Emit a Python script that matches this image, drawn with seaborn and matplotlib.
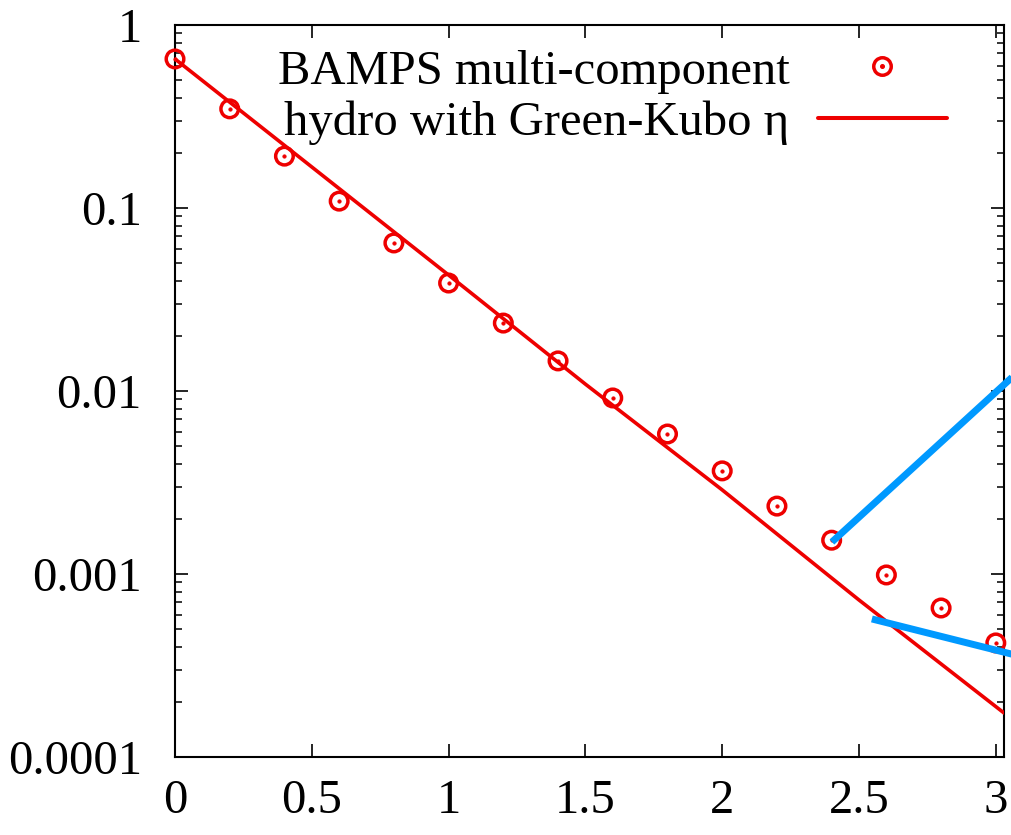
import matplotlib
matplotlib.use("Agg")
import matplotlib.pyplot as plt
import matplotlib.ticker as mticker
from matplotlib.lines import Line2D
from matplotlib.legend_handler import HandlerTuple
import seaborn as sns
import pandas as pd

# BAMPS multi-component transport results
bamps_x = [0.0, 0.2, 0.4, 0.6, 0.8, 1.0, 1.2, 1.4, 1.6, 1.8, 2.0, 2.2, 2.4, 2.6, 2.8, 3.0]
bamps_y = [0.652, 0.348, 0.192, 0.109, 0.0644, 0.0389, 0.0235, 0.0146, 0.00916,
           0.00582, 0.00366, 0.00235, 0.00153, 0.000988, 0.000652, 0.00042]

# hydrodynamic curve using the Green-Kubo shear viscosity
hydro_x = [0.0, 0.5, 1.0, 1.5, 2.0, 2.5, 3.03]
hydro_y = [0.652, 0.1675, 0.0430, 0.0109, 0.00288, 0.000721, 0.000174]

# pointer lines leading off to the right
pointer_a_x = [2.401, 3.10]
pointer_a_y = [0.001496, 0.0135]
pointer_b_x = [2.547, 3.10]
pointer_b_y = [0.000568, 0.000352]

y_ticks = [1e-4, 1e-3, 1e-2, 1e-1, 1.0]
y_tick_labels = ["0.0001", "0.001", "0.01", "0.1", "1"]
x_ticks = [0, 0.5, 1, 1.5, 2, 2.5, 3]
x_tick_labels = ["0", "0.5", "1", "1.5", "2", "2.5", "3"]

label_bamps = "BAMPS multi-component"
label_hydro = "hydro with Green-Kubo \u03b7"

sns.set_theme(style="ticks")
plt.rcParams["font.family"] = ["Liberation Serif", "DejaVu Serif"]
plt.rcParams["text.color"] = "black"
plt.rcParams["axes.labelcolor"] = "black"
plt.rcParams["xtick.color"] = "black"
plt.rcParams["ytick.color"] = "black"

RED = "#EE0000"
BLUE = "#0099FF"
LINE_W = 2.6
EDGE_W = 2.5

fig = plt.figure(figsize=(10.11, 8.35), dpi=100)
ax = fig.add_axes([0.1731, 0.0934, 0.8200, 0.8767])

df_b = pd.DataFrame({"x": bamps_x, "y": bamps_y})
df_h = pd.DataFrame({"x": hydro_x, "y": hydro_y})

sns.lineplot(data=df_h, x="x", y="y", ax=ax, color=RED, linewidth=LINE_W,
             sort=False, estimator=None, zorder=3)
sns.scatterplot(data=df_b, x="x", y="y", ax=ax, marker="o", s=160,
                facecolor="none", edgecolor=RED, linewidth=EDGE_W, zorder=4, clip_on=False)
sns.scatterplot(data=df_b, x="x", y="y", ax=ax, marker="o", s=7,
                color=RED, edgecolor=RED, linewidth=0.3, zorder=5, clip_on=False)

for px, py in ((pointer_a_x, pointer_a_y), (pointer_b_x, pointer_b_y)):
    ax.plot(px, py, color=BLUE, linewidth=5.0, solid_capstyle="butt",
            clip_on=False, zorder=6)

ax.set_yscale("log")
ax.set_xlim(0, 3.03)
ax.set_ylim(1e-4, 1.0)
ax.set_xticks(x_ticks)
ax.set_xticklabels(x_tick_labels)
ax.set_yticks(y_ticks)
ax.set_yticklabels(y_tick_labels)
ax.yaxis.set_minor_locator(mticker.LogLocator(base=10, subs=range(2, 10), numticks=20))
ax.yaxis.set_minor_formatter(mticker.NullFormatter())
ax.xaxis.set_minor_locator(mticker.NullLocator())
ax.set_xlabel("")
ax.set_ylabel("")

for s in ax.spines.values():
    s.set_linewidth(1.5)
    s.set_color("black")
ax.tick_params(axis="both", which="major", direction="in", length=9.5, width=1.2,
               top=True, right=True, labelsize=35, colors="black")
ax.tick_params(axis="y", which="minor", direction="in", length=5, width=1.1,
               left=True, right=True)
ax.tick_params(axis="y", which="major", pad=24)
ax.tick_params(axis="x", which="major", pad=16)

h_bamps = (Line2D([], [], linestyle="none", marker="o", markersize=12.6,
                  markerfacecolor="none", markeredgecolor=RED, markeredgewidth=EDGE_W),
           Line2D([], [], linestyle="none", marker="o", markersize=2.6,
                  color=RED))
h_hydro = Line2D([], [], color=RED, linewidth=2.9)
leg = ax.legend([h_bamps, h_hydro], [label_bamps, label_hydro],
                handler_map={tuple: HandlerTuple(ndivide=1, pad=0)},
                loc="upper right", bbox_to_anchor=(0.972, 1.013), frameon=False,
                markerfirst=False, fontsize=35, handlelength=2.65, handletextpad=0.59,
                labelspacing=0.15, borderpad=0.2)
for t in leg.get_texts():
    t.set_color("black")

fig.savefig("out.png", dpi=100)
